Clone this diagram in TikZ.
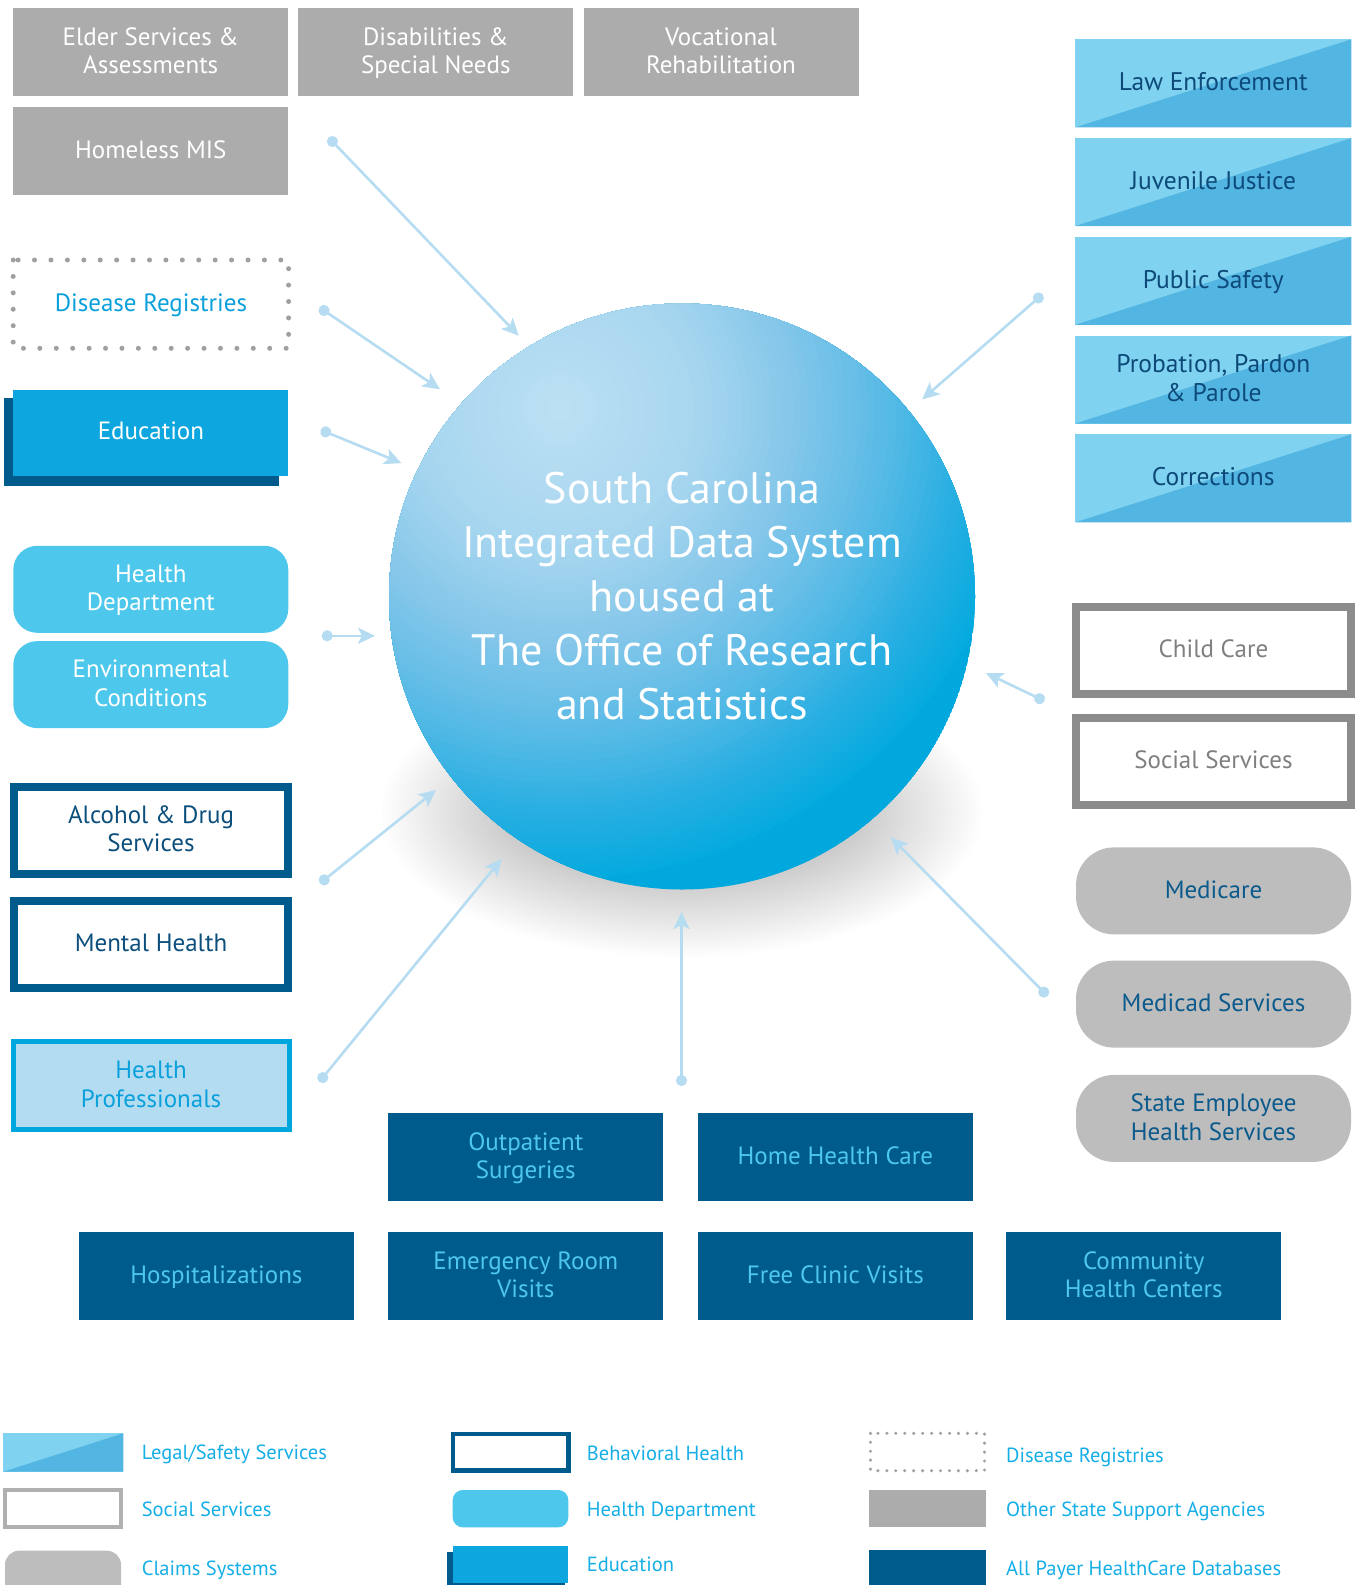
\documentclass[tikz,border=0pt]{standalone}
\usepackage{fontspec}
\setmainfont{PT Sans}
\usetikzlibrary{arrows.meta}
\definecolor{grayA}{HTML}{ACACAC}
\definecolor{claimG}{HTML}{BDBDBD}
\definecolor{socG}{HTML}{8C8C8C}
\definecolor{socLeg}{HTML}{B0B0B0}
\definecolor{socT}{HTML}{7F7F7F}
\definecolor{legL}{HTML}{80D3F0}
\definecolor{legD}{HTML}{53B5E2}
\definecolor{legT}{HTML}{0D4A7A}
\definecolor{dkB}{HTML}{005B8D}
\definecolor{eduB}{HTML}{0EA6DE}
\definecolor{hdB}{HTML}{4DC8EC}
\definecolor{hpF}{HTML}{B4DCF1}
\definecolor{hpB}{HTML}{00A6DE}
\definecolor{cyT}{HTML}{0AA0DC}
\definecolor{bhT}{HTML}{0C4F7C}
\definecolor{clT}{HTML}{0B5A8C}
\definecolor{lgT}{HTML}{15AEE6}
\definecolor{arrC}{HTML}{B6DCF1}
\definecolor{dotG}{HTML}{A0A0A0}
\definecolor{cA}{HTML}{BDE0F3}
\definecolor{cB}{HTML}{A6D6EF}
\definecolor{cC}{HTML}{86C7EA}
\definecolor{cD}{HTML}{5CBBE6}
\definecolor{cE}{HTML}{26AEE2}
\definecolor{cF}{HTML}{05AADF}
\definecolor{cG}{HTML}{00A8DE}
\newcommand\gradseg[4]{\foreach \k in {0,...,11}{\pgfmathsetmacro\rr{#2-\k*(#2-#1)/12}\pgfmathtruncatemacro\pp{round(100*\k/12)}\fill[#3!\pp!#4] (hl) circle (\rr);}}
\tikzset{
  box/.style={minimum width=275pt, minimum height=88pt, inner sep=0pt, align=center, font=\fontsize{25}{28.5}\selectfont, text depth=3pt},
  otherbox/.style={box, fill=grayA, text=white},
  diseasebox/.style={box, text=cyT},
  edubox/.style={box, minimum height=86pt, fill=eduB, text=white},
  hdbox/.style={box, minimum height=87pt, fill=hdB, text=white, rounded corners=24pt},
  bhbox/.style={box, minimum width=274pt, minimum height=87pt, draw=dkB, line width=8pt, fill=white, text=bhT},
  hpbox/.style={box, minimum width=276pt, minimum height=88pt, draw=hpB, line width=5pt, fill=hpF, text=cyT},
  legalbox/.style={box, minimum width=276pt, fill=legL, text=legT, font=\fontsize{25.5}{28.5}\selectfont,
    path picture={\fill[legD] (path picture bounding box.south west) -- (path picture bounding box.south east) -- (path picture bounding box.north east) -- cycle;}},
  socbox/.style={box, minimum width=275pt, minimum height=87pt, draw=socG, line width=8pt, fill=white, text=socT},
  claimbox/.style={box, minimum height=87pt, fill=claimG, text=clT, rounded corners=38pt},
  apbox/.style={box, fill=dkB, text=hdB},
  conn/.style={draw=arrC, line width=2.6pt, {Circle[length=11pt,width=11pt]}-{Stealth[length=17pt,width=16pt,inset=4pt]}},
  legtext/.style={anchor=base west, text=lgT, inner sep=0pt, font=\fontsize{20.5}{25}\selectfont},
}
\begin{document}
\begin{tikzpicture}[x=1pt,y=-1pt]
\useasboundingbox (0,0) rectangle (1356,1585);
\fill[white] (0,0) rectangle (1356,1585);
% soft shadow under circle
\foreach \i in {0,...,25} {
  \fill[black, opacity=0.006] (682,812) ellipse ({180+4.8*\i} and {70+3*\i});
}
% left top gray boxes
\node[otherbox] (elder) at (150.7,52.1) {Elder Services \&\\Assessments};
\node[otherbox] (disab) at (435.8,52.1) {Disabilities \&\\Special Needs};
\node[otherbox] (vocat) at (721,52.1) {Vocational\\Rehabilitation};
\node[otherbox] (homeless) at (150.7,150.7) {Homeless MIS};
% disease registries
\draw[dotG, line width=5pt, line cap=round, dash pattern=on 0pt off 16.42pt] (13.2,260) rectangle (288.6,348.3);
\node[diseasebox] (disease) at (150.9,304.1) {Disease Registries};
% education
\fill[dkB] (4.3,398.3) rectangle (278.6,485.7);
\node[edubox] (edu) at (150.9,432.5) {Education};
% health dept
\node[hdbox] (hd) at (150.8,589.3) {Health\\Department};
\node[hdbox] (env) at (150.8,684.6) {Environmental\\Conditions};
% behavioral
\node[bhbox] (alcohol) at (151,830.2) {Alcohol \& Drug\\Services};
\node[bhbox] (mental) at (151,944.5) {Mental Health};
% health professionals
\node[hpbox] (hprof) at (151,1085.8) {Health\\Professionals};
% right legal boxes
\node[legalbox] (law) at (1213.3,83.3) {Law Enforcement};
\node[legalbox] (juv) at (1213.3,182.1) {Juvenile Justice};
\node[legalbox] (pub) at (1213.3,280.8) {Public Safety};
\node[legalbox] (prob) at (1213.3,379.5) {Probation, Pardon\\\& Parole};
\node[legalbox] (corr) at (1213.3,478.3) {Corrections};
% social services
\node[socbox] (child) at (1213.4,650.2) {Child Care};
\node[socbox] (social) at (1213.4,761.5) {Social Services};
% claims
\node[claimbox] (medicare) at (1213.5,890.9) {Medicare};
\node[claimbox] (medicad) at (1213.5,1004.1) {Medicad Services};
\node[claimbox] (stateemp) at (1213.5,1118.4) {State Employee\\Health Services};
% all payer
\node[apbox] (outp) at (525.8,1157.3) {Outpatient\\Surgeries};
\node[apbox] (home) at (835.3,1157.3) {Home Health Care};
\node[apbox] (hosp) at (216.4,1276.1) {Hospitalizations};
\node[apbox] (er) at (525.8,1276.1) {Emergency Room\\Visits};
\node[apbox] (free) at (835.3,1276.1) {Free Clinic Visits};
\node[apbox] (comm) at (1143.7,1276.1) {Community\\Health Centers};
% central circle with off-centre gradient
\coordinate (hl) at (560,410);
\begin{scope}
  \clip (682,596.5) circle (293);
  \fill[cG] (682,596.5) circle (293);
  \gradseg{410}{469}{cE}{cF}
  \gradseg{322}{410}{cD}{cE}
  \gradseg{234}{322}{cC}{cD}
  \gradseg{146}{234}{cB}{cC}
  \gradseg{0}{146}{cA}{cB}
\end{scope}
\node[circle, minimum size=586pt, inner sep=0pt, text=white, align=center,
      font=\fontsize{44}{54}\selectfont] (ids) at (682,596.5)
  {South Carolina\\Integrated Data System\\housed at\\The Office of Research\\and Statistics};
% connectors
\coordinate (s1) at (328.6,137.5);  \coordinate (e1) at (518.7,335.7);
\coordinate (s2) at (319.5,307.4);  \coordinate (e2) at (439.9,389.3);
\coordinate (s3) at (320.6,429.8);  \coordinate (e3) at (401.4,463.1);
\coordinate (s4) at (321.7,635.8);  \coordinate (e4) at (375,635.8);
\coordinate (s5) at (320,883.3);    \coordinate (e5) at (436,790);
\coordinate (s6) at (319.3,1081.8); \coordinate (e6) at (501.7,858.8);
\coordinate (s7) at (681.5,1086);   \coordinate (e7) at (681.5,912);
\coordinate (s8) at (1047.6,996);   \coordinate (e8) at (890.9,837.3);
\coordinate (s9) at (1044.5,701);   \coordinate (e9) at (986,673);
\coordinate (s10) at (1042.5,294.3); \coordinate (e10) at (922.2,399.4);
\foreach \i in {1,...,10} { \draw[conn] (s\i) -- (e\i); }
% legend swatches
\fill[legL] (3.3,1433.3) rectangle (123.3,1471.7);
\fill[legD] (3.3,1471.7) -- (123.3,1471.7) -- (123.3,1433.3) -- cycle;
\draw[socLeg, line width=4pt] (5.3,1490.3) rectangle (121,1527.3);
\fill[claimG, rounded corners=14pt] (5,1550.7) rectangle (121,1610);
\draw[dkB, line width=4.3pt, fill=white] (452.9,1433.9) rectangle (568.5,1470.5);
\fill[hdB, rounded corners=10pt] (452.7,1490) rectangle (568.3,1527.3);
\fill[dkB] (447.3,1551.7) rectangle (565,1600);
\fill[eduB] (453.3,1546) rectangle (568.3,1582.7);
\draw[dotG, line width=3.4pt, line cap=round, dash pattern=on 0pt off 8.95pt] (870.5,1433.3) rectangle (984.5,1470.7);
\fill[grayA] (869,1490) rectangle (985.7,1527.3);
\fill[dkB] (869,1550) rectangle (985.7,1600);
% legend texts
\node[legtext] (l1) at (141.6,1459.3) {Legal/Safety Services};
\node[legtext] (l2) at (141.6,1516) {Social Services};
\node[legtext] (l3) at (141.6,1575.7) {Claims Systems};
\node[legtext] (l4) at (586.7,1460) {Behavioral Health};
\node[legtext] (l5) at (586.7,1516) {Health Department};
\node[legtext] (l6) at (586.7,1571.7) {Education};
\node[legtext] (l7) at (1006,1462.3) {Disease Registries};
\node[legtext] (l8) at (1006,1516.7) {Other State Support Agencies};
\node[legtext] (l9) at (1006,1575.7) {All Payer HealthCare Databases};
\end{tikzpicture}
\end{document}
